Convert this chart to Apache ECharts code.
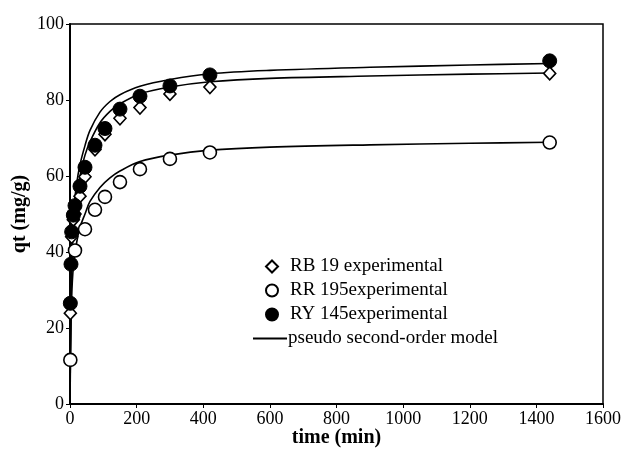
<!DOCTYPE html>
<html><head><meta charset="utf-8">
<script src="https://cdn.jsdelivr.net/npm/echarts@6/dist/echarts.min.js"></script>
<style>html,body{margin:0;padding:0;background:#fff}#c{width:625px;height:457px}</style>
</head><body><div id="c"></div>
<script>
// experimental data: [time (min), qt (mg/g)]
const rb19Exp = [[1,23.9],[5,44.0],[10,48.5],[15,50.0],[30,54.7],[45,59.8],[75,67.0],[105,71.0],[150,75.2],[210,78.0],[300,81.6],[420,83.4],[1440,87.0]];
const rr195Exp = [[1,11.6],[15,40.4],[45,46.0],[75,51.1],[105,54.5],[150,58.4],[210,61.8],[300,64.5],[420,66.2],[1440,68.8]];
const ry145Exp = [[1,26.5],[3,36.8],[5,45.3],[10,49.7],[15,52.2],[30,57.3],[45,62.3],[75,68.1],[105,72.5],[150,77.6],[210,81.0],[300,83.7],[420,86.6],[1440,90.3]];
// model curves
const rb19Model = [[0,0],[2,20],[5,35],[10,46],[20,55],[30,60],[45,65.5],[60,69],[90,74],[120,77],[150,79],[210,81.6],[300,83.4],[420,84.8],[600,85.7],[900,86.3],[1200,86.8],[1440,87.1]];
const rr195Model = [[0,0],[2,15],[5,28],[10,36],[20,42.5],[30,46.5],[45,50],[60,53.3],[90,57],[120,59.5],[150,61.3],[210,63.8],[300,65.5],[420,66.8],[600,67.6],[900,68.2],[1200,68.6],[1440,68.9]];
const ry145Model = [[0,0],[2,22],[5,38],[10,50],[20,58],[30,63],[45,68],[60,72],[90,76.8],[120,79.6],[150,81.4],[210,83.6],[300,85.4],[420,86.9],[600,87.8],[900,88.6],[1200,89.2],[1440,89.6]];
const xTicks = {min:0, max:1600, interval:200};
const yTicks = {min:0, max:100, interval:20};
const legendNames = ['RB 19 experimental','RR 195experimental','RY 145experimental','pseudo second-order model'];

const font = 'Liberation Serif, Times New Roman, serif';
const chart = echarts.init(document.getElementById('c'));
const modelStyle = {type:'line', name:legendNames[3], symbol:'none', smooth:0.35, lineStyle:{color:'#000', width:1.6}, itemStyle:{color:'#000'}, z:2, silent:true};
const legendText = {fontFamily:font, fontSize:19, color:'#000', lineHeight:19};
chart.setOption({
  animation:false,
  backgroundColor:'#fff',
  grid:{left:70, right:22, top:24, bottom:53, show:true, borderColor:'#000', borderWidth:1.5, containLabel:false, outerBoundsMode:'none'},
  legend:[{
    orient:'vertical', left:260, top:252, itemWidth:12, itemHeight:12, itemGap:5,
    textStyle:Object.assign({padding:[0,0,0,7]}, legendText),
    data:[
      {name:legendNames[0], icon:'diamond'},
      {name:legendNames[1], icon:'circle'},
      {name:legendNames[2], icon:'circle'}
    ]
  },{
    orient:'vertical', left:248, top:324, itemWidth:34, itemHeight:2,
    textStyle:Object.assign({padding:[0,0,0,-4]}, legendText),
    data:[{name:legendNames[3], icon:'rect'}]
  }],
  xAxis:{
    type:'value', min:xTicks.min, max:xTicks.max, interval:xTicks.interval,
    name:'time (min)', nameLocation:'middle', nameGap:24, nameMoveOverlap:false,
    nameTextStyle:{fontFamily:font, fontSize:20, fontWeight:'bold', color:'#000'},
    axisLine:{lineStyle:{color:'#000', width:2}},
    axisTick:{length:4, lineStyle:{color:'#000'}},
    axisLabel:{fontFamily:font, fontSize:18, color:'#000', margin:6, formatter:v=>String(v)},
    splitLine:{show:false}
  },
  yAxis:{
    type:'value', min:yTicks.min, max:yTicks.max, interval:yTicks.interval,
    name:'qt (mg/g)', nameLocation:'middle', nameGap:40, nameMoveOverlap:false,
    nameTextStyle:{fontFamily:font, fontSize:20, fontWeight:'bold', color:'#000'},
    axisLine:{lineStyle:{color:'#000', width:2}},
    axisTick:{length:4, lineStyle:{color:'#000'}},
    axisLabel:{fontFamily:font, fontSize:18, color:'#000', margin:6, formatter:v=>String(v)},
    splitLine:{show:false}
  },
  series:[
    Object.assign({}, modelStyle, {data:ry145Model}),
    Object.assign({}, modelStyle, {data:rb19Model}),
    Object.assign({}, modelStyle, {data:rr195Model}),
    {type:'scatter', name:legendNames[1], data:rr195Exp, symbol:'circle', symbolSize:13,
     itemStyle:{color:'#fff', borderColor:'#000', borderWidth:1.6, opacity:1}, z:3},
    {type:'scatter', name:legendNames[0], data:rb19Exp, symbol:'diamond', symbolSize:[12,13],
     itemStyle:{color:'#fff', borderColor:'#000', borderWidth:1.6, opacity:1}, z:4},
    {type:'scatter', name:legendNames[2], data:ry145Exp, symbol:'circle', symbolSize:14,
     itemStyle:{color:'#000', borderColor:'#000', borderWidth:1, opacity:1}, z:5}
  ]
});
</script></body></html>
